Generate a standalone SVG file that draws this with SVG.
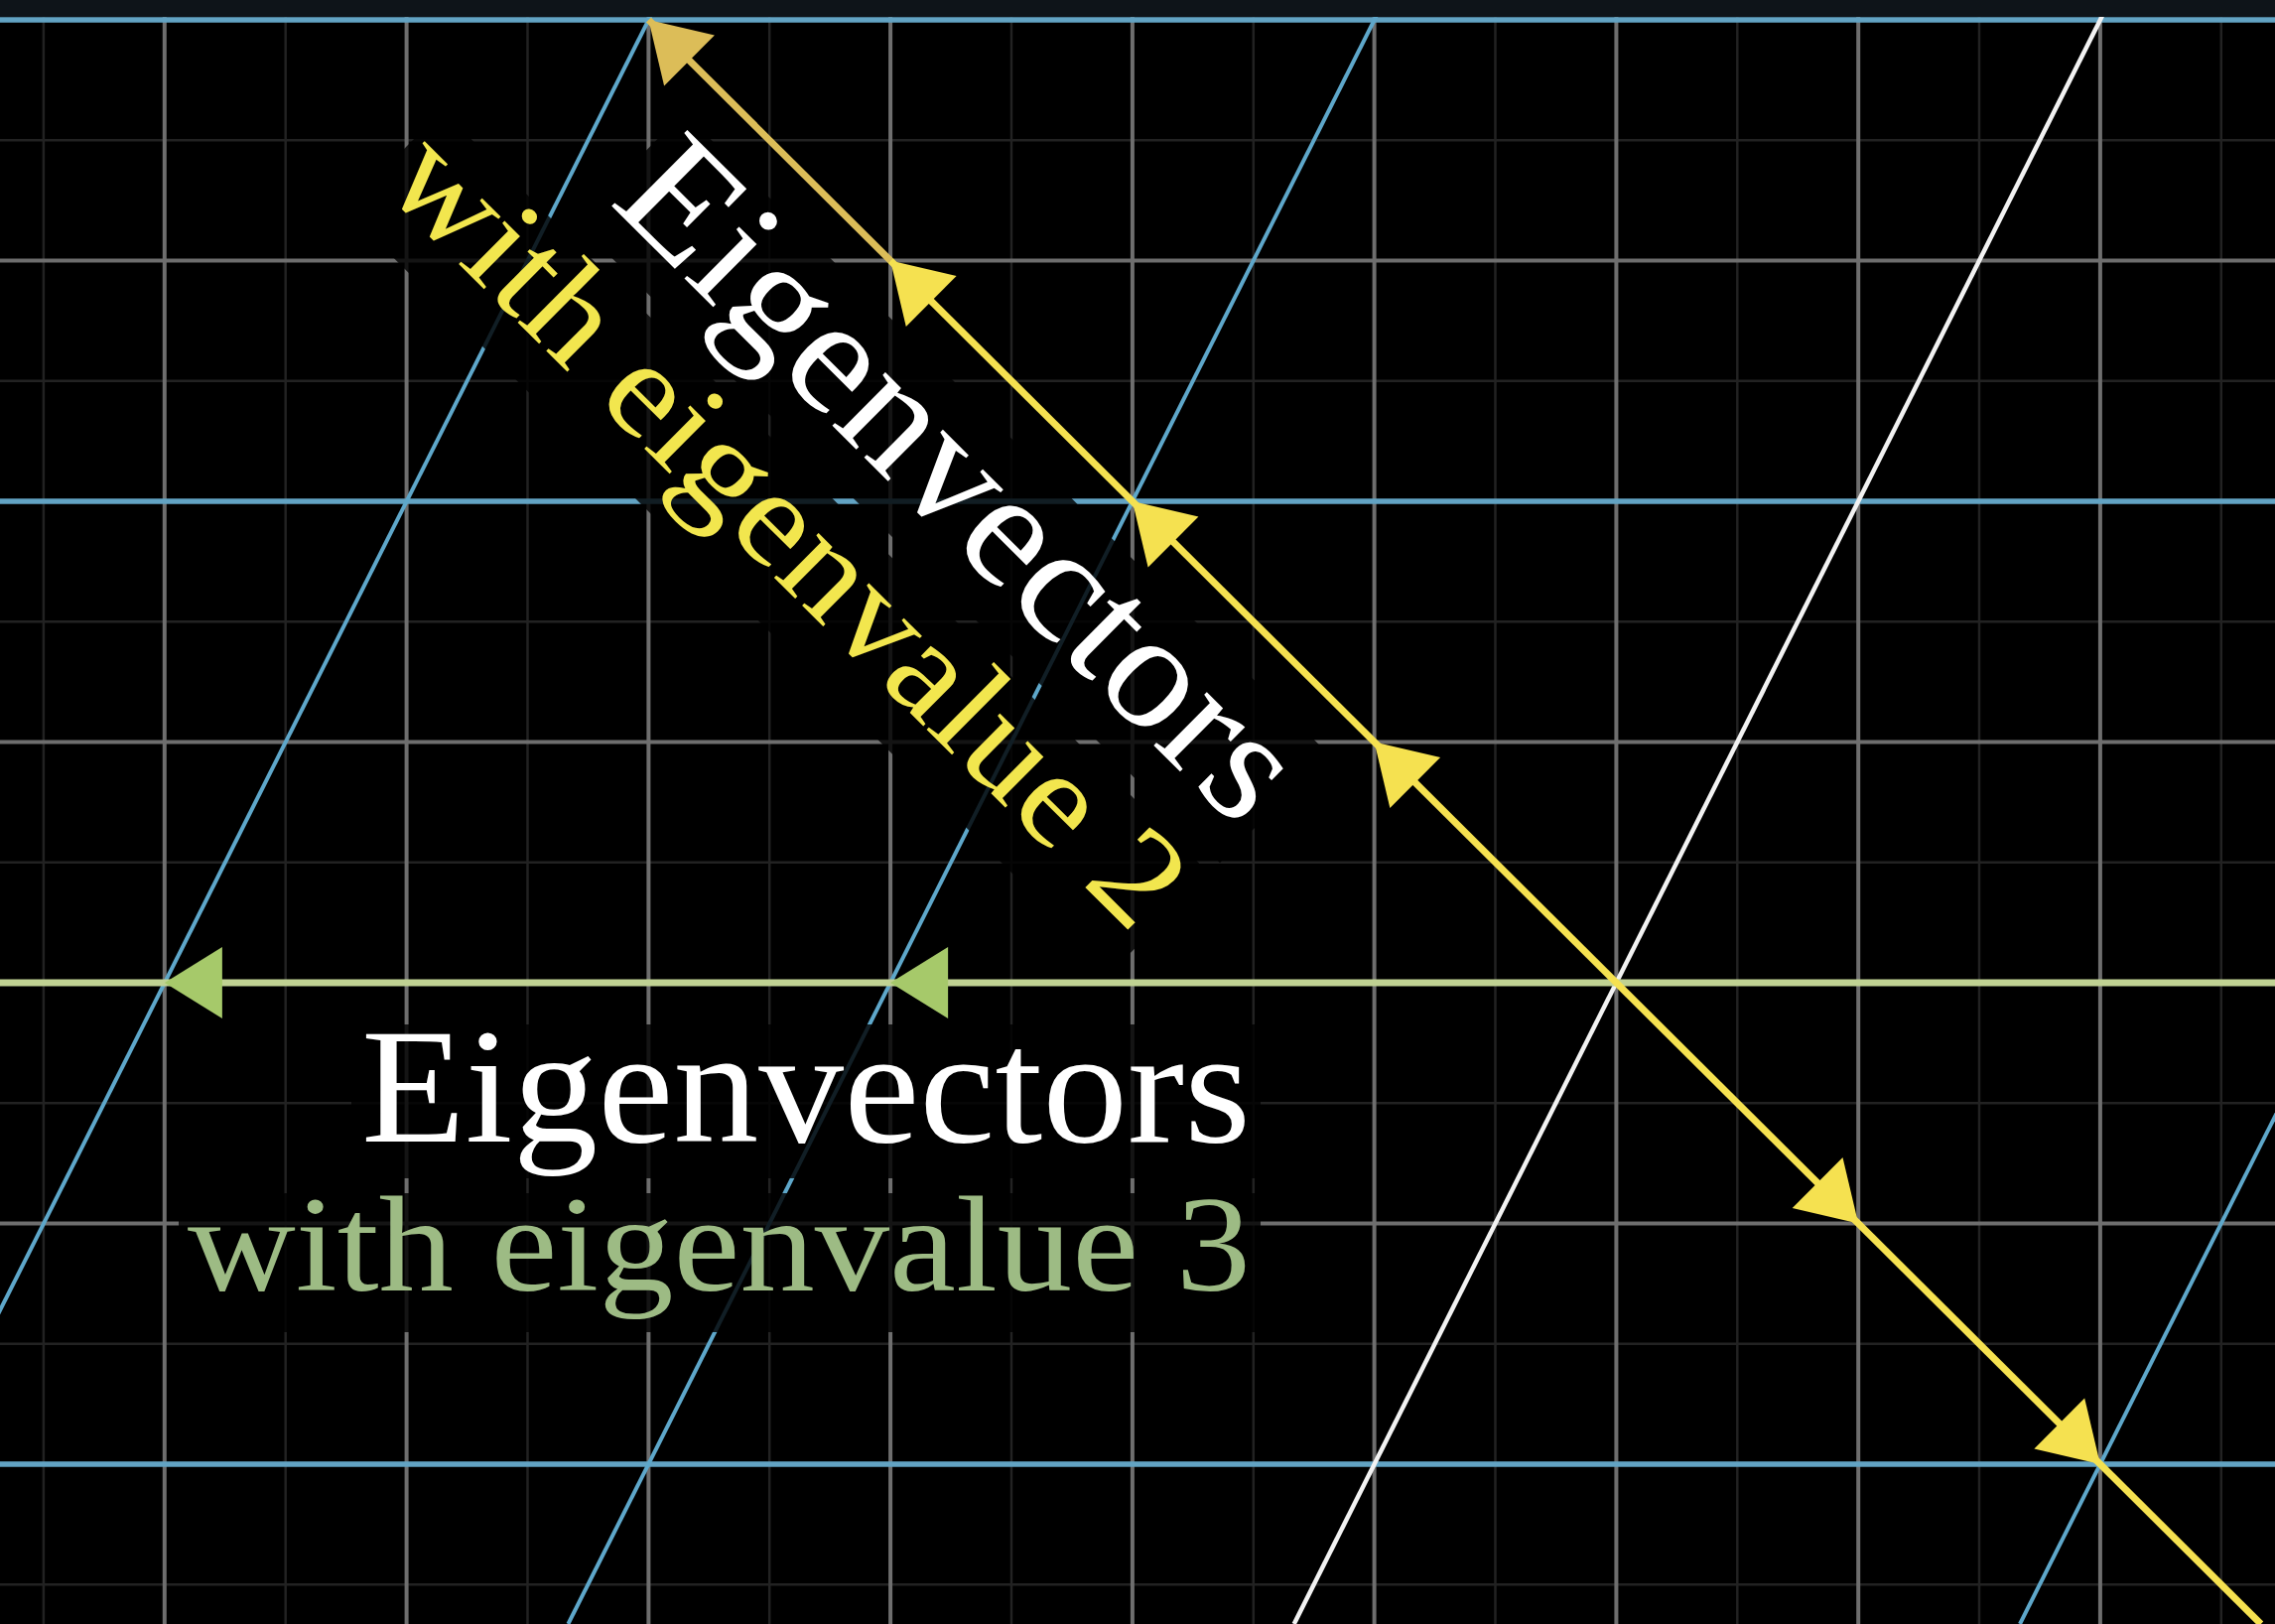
<svg xmlns="http://www.w3.org/2000/svg" width="2292" height="1636" viewBox="0 0 2292 1636">
  <defs>
    <style>
      .minor { stroke: #222222; stroke-width: 2.5; }
      .major { stroke: #6e6e6e; stroke-width: 4; }
      .blueh { stroke: #62a3c3; stroke-width: 5.5; }
      .blues { stroke: #5ea7ca; stroke-width: 4; }
      .whiteline { stroke: #f2f2f2; stroke-width: 4.5; }
      .yellow { stroke: #f5e150; stroke-width: 7; }
      .gold { stroke: #dcbd58; stroke-width: 7; }
      .green { stroke: #c0d293; stroke-width: 7; }
      .bgrect { fill: #000000; fill-opacity: 0.82; }
      .t1 { font-family: "Liberation Serif", "Times New Roman", serif; font-size: 165px; fill: #ffffff; }
      .t2 { font-family: "Liberation Serif", "Times New Roman", serif; font-size: 138px; }
    </style>
    <path id="head" d="M0,0 L-58,-36 L-58,36 Z"/>
  </defs>

  <rect x="0" y="0" width="2292" height="1636" fill="#000000"/>

  <g id="grid-minor" class="minor">
    <line x1="43.9" y1="0" x2="43.9" y2="1636"/>
    <line x1="287.7" y1="0" x2="287.7" y2="1636"/>
    <line x1="531.5" y1="0" x2="531.5" y2="1636"/>
    <line x1="775.2" y1="0" x2="775.2" y2="1636"/>
    <line x1="1019" y1="0" x2="1019" y2="1636"/>
    <line x1="1262.8" y1="0" x2="1262.8" y2="1636"/>
    <line x1="1506.5" y1="0" x2="1506.5" y2="1636"/>
    <line x1="1750.3" y1="0" x2="1750.3" y2="1636"/>
    <line x1="1994" y1="0" x2="1994" y2="1636"/>
    <line x1="2237.8" y1="0" x2="2237.8" y2="1636"/>
    <line x1="0" y1="141.3" x2="2292" y2="141.3"/>
    <line x1="0" y1="383.8" x2="2292" y2="383.8"/>
    <line x1="0" y1="626.3" x2="2292" y2="626.3"/>
    <line x1="0" y1="868.8" x2="2292" y2="868.8"/>
    <line x1="0" y1="1111.3" x2="2292" y2="1111.3"/>
    <line x1="0" y1="1353.8" x2="2292" y2="1353.8"/>
    <line x1="0" y1="1596.3" x2="2292" y2="1596.3"/>
  </g>

  <g id="grid-major" class="major">
    <line x1="165.8" y1="0" x2="165.8" y2="1636"/>
    <line x1="409.6" y1="0" x2="409.6" y2="1636"/>
    <line x1="653.4" y1="0" x2="653.4" y2="1636"/>
    <line x1="897.1" y1="0" x2="897.1" y2="1636"/>
    <line x1="1140.9" y1="0" x2="1140.9" y2="1636"/>
    <line x1="1384.6" y1="0" x2="1384.6" y2="1636"/>
    <line x1="1628.4" y1="0" x2="1628.4" y2="1636"/>
    <line x1="1872.2" y1="0" x2="1872.2" y2="1636"/>
    <line x1="2115.9" y1="0" x2="2115.9" y2="1636"/>
    <line x1="0" y1="262.5" x2="2292" y2="262.5"/>
    <line x1="0" y1="747.5" x2="2292" y2="747.5"/>
    <line x1="0" y1="1232.5" x2="2292" y2="1232.5"/>
  </g>

  <g id="transformed-grid">
    <g class="blueh">
      <line x1="0" y1="20" x2="2292" y2="20"/>
      <line x1="0" y1="505" x2="2292" y2="505"/>
      <line x1="0" y1="1475" x2="2292" y2="1475"/>
    </g>
    <g class="blues">
      <line x1="663.5" y1="0" x2="-158.8" y2="1636"/>
      <line x1="1394.7" y1="0" x2="572.4" y2="1636"/>
      <line x1="2857.3" y1="0" x2="2035" y2="1636"/>
    </g>
    <line id="image-of-y-axis" class="whiteline" x1="2126" y1="0" x2="1303.7" y2="1636"/>
  </g>

  <g id="label-backgrounds">
    <g transform="translate(1260,1150)">
      <rect class="bgrect" x="-906" y="-118" width="916" height="155"/>
      <rect class="bgrect" x="-1080" y="52" width="1090" height="140"/>
    </g>
    <g transform="translate(1248,836) rotate(44.85)">
      <rect class="bgrect" x="-906" y="-118" width="916" height="155"/>
      <rect class="bgrect" x="-1080" y="52" width="1090" height="140"/>
    </g>
  </g>

  <g id="connectors">
    <g id="eigenline-3">
      <line class="green" x1="0" y1="990" x2="2292" y2="990"/>
      <use href="#head" fill="#a6c96a" transform="translate(897.1,990) rotate(180)"/>
      <use href="#head" fill="#a6c96a" transform="translate(165.9,990) rotate(180)"/>
    </g>
    <g id="eigenline-2">
      <line class="gold" x1="653.4" y1="20" x2="897.1" y2="262.5"/>
      <line class="yellow" x1="897.1" y1="262.5" x2="2277.8" y2="1636"/>
      <use href="#head" fill="#dcbd58" transform="translate(653.4,20) rotate(224.85)"/>
      <use href="#head" fill="#f5e150" transform="translate(897.1,262.5) rotate(224.85)"/>
      <use href="#head" fill="#f5e150" transform="translate(1140.9,505) rotate(224.85)"/>
      <use href="#head" fill="#f5e150" transform="translate(1384.6,747.5) rotate(224.85)"/>
      <use href="#head" fill="#f5e150" transform="translate(1872.2,1232.5) rotate(44.85)"/>
      <use href="#head" fill="#f5e150" transform="translate(2115.9,1475) rotate(44.85)"/>
    </g>
  </g>

  <g id="label-eigenvalue-3" transform="translate(1260,1150)">
    <text class="t1" x="-896" y="0" textLength="896" lengthAdjust="spacingAndGlyphs">Eigenvectors</text>
    <text class="t2" x="-1071" y="150" textLength="1071" lengthAdjust="spacingAndGlyphs" fill="#9dbb84">with eigenvalue 3</text>
  </g>

  <g id="label-eigenvalue-2" transform="translate(1248,836) rotate(44.85)">
    <text class="t1" x="-896" y="0" textLength="896" lengthAdjust="spacingAndGlyphs">Eigenvectors</text>
    <text class="t2" x="-1071" y="150" textLength="1071" lengthAdjust="spacingAndGlyphs" fill="#f2e64e">with eigenvalue 2</text>
  </g>

  <rect id="top-band" x="0" y="0" width="2292" height="17" fill="#0e1419"/>
</svg>
